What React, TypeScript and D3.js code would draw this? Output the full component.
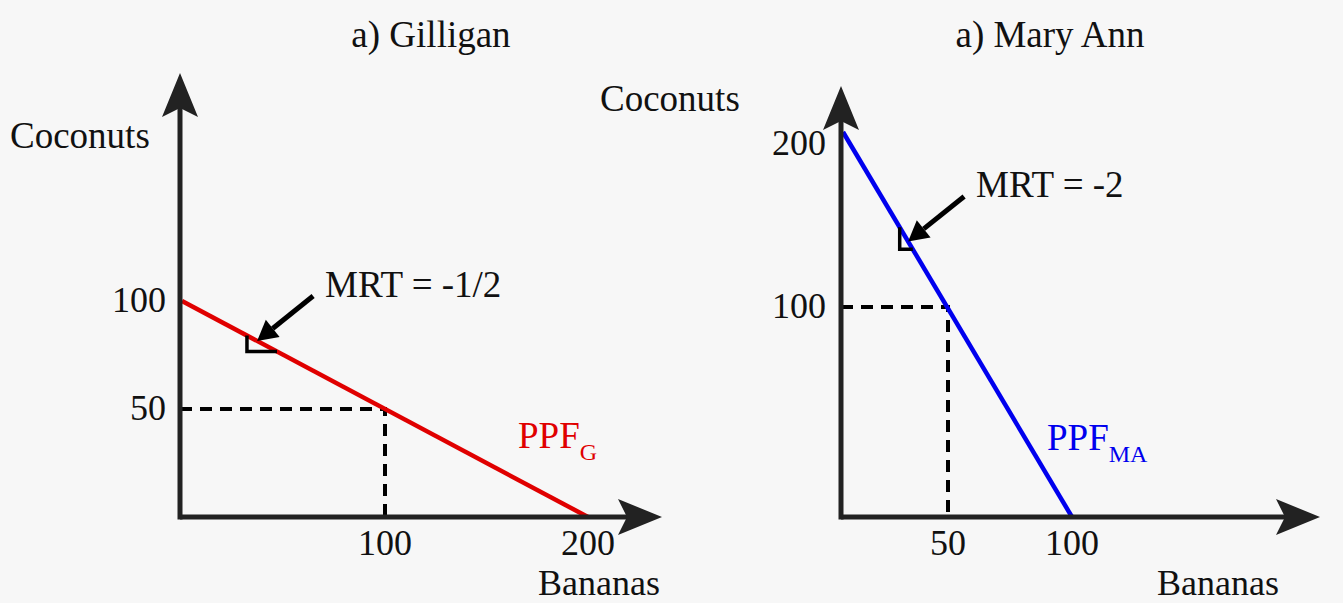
import * as d3 from "d3";

// --- data --------------------------------------------------------------

const gilliganTitle = "a) Gilligan";
const gilliganPPF = [
  { bananas: 0, coconuts: 100 },
  { bananas: 200, coconuts: 0 },
];
const gilliganPoint = { bananas: 100, coconuts: 50 };
const gilliganXTicks = [100, 200];
const gilliganYTicks = [50, 100];
const gilliganMRT = "MRT = -1/2";
const gilliganMRTAt = 37; // bananas where the arrow points
const gilliganMarkAt = 32; // bananas where the slope mark sits
const gilliganSub = "G";

const maryAnnTitle = "a) Mary Ann";
const maryAnnPPF = [
  { bananas: 0, coconuts: 200 },
  { bananas: 100, coconuts: 0 },
];
const maryAnnPoint = { bananas: 50, coconuts: 100 };
const maryAnnXTicks = [50, 100];
const maryAnnYTicks = [100, 200];
const maryAnnMRT = "MRT = -2";
const maryAnnMRTAt = 31;
const maryAnnMarkAt = 27;
const maryAnnSub = "MA";

// --- layout --------------------------------------------------------------

const W = 1343;
const H = 603;
const FONT = "'Liberation Serif', 'DejaVu Serif', serif";
const AXIS = "#222";

type Pt = { bananas: number; coconuts: number };

interface PanelProps {
  title: string;
  titleX: number;
  ppf: Pt[];
  point: Pt;
  xTicks: number[];
  yTicks: number[];
  mrt: string;
  mrtAt: number;
  markAt: number;
  markDepth: number;
  sub: string;
  color: string;
  origin: [number, number];
  // the sketch is not drawn to scale, so scales may be piecewise
  xDomain: number[];
  xRange: number[];
  yDomain: number[];
  yRange: number[];
  xTip: number;
  yTip: number;
  yLabelPos: [number, number];
  xLabelEnd: number;
  ppfLabel: [number, number];
  tickRight: number;
  topTickMin: number;
}

// notched arrow head pointing along +x with its tip at 0,0
const headPath = "M0,0 L-44,-18 L-35,0 L-44,18 Z";

function Panel(p: PanelProps) {
  const [ox, oy] = p.origin;
  const x = d3.scaleLinear().domain(p.xDomain).range(p.xRange);
  const y = d3.scaleLinear().domain(p.yDomain).range(p.yRange);

  const line = d3
    .line<Pt>()
    .x((d) => x(d.bananas))
    .y((d) => y(d.coconuts));

  // the PPF segment in pixel space, used to hang the annotations on it
  const a = p.ppf[0];
  const b = p.ppf[1];
  const segY = d3
    .scaleLinear()
    .domain([x(a.bananas), x(b.bananas)])
    .range([y(a.coconuts), y(b.coconuts)]);

  // arrow for MRT
  const tx = x(p.mrtAt);
  const ty = segY(tx);
  const sx = tx + 56;
  const sy = ty - 45;
  const ang = Math.atan2(ty - sy, tx - sx);
  const hl = 20;
  const hw = 11;
  const bx = tx - hl * Math.cos(ang);
  const by = ty - hl * Math.sin(ang);
  const nx = -Math.sin(ang);
  const ny = Math.cos(ang);
  const arrowHead = `M${tx},${ty} L${bx + nx * hw},${by + ny * hw} L${bx - nx * hw},${by - ny * hw} Z`;

  // slope mark: down from the line, then right back to it
  const mx = x(p.markAt);
  const my = segY(mx);
  const cy = my + p.markDepth;
  const ex = segY.invert(cy);
  const mark = `M${mx},${my} L${mx},${cy} L${ex},${cy}`;

  const px = x(p.point.bananas);
  const py = y(p.point.coconuts);

  return (
    <g>
      <text x={p.titleX} y={47} fontSize={37} textAnchor="middle" fill="#111">
        {p.title}
      </text>

      {/* dashed guides */}
      <path
        d={`M${ox},${py} L${px},${py} L${px},${oy}`}
        fill="none"
        stroke="#000"
        strokeWidth={4}
        strokeDasharray="12,8"
      />

      {/* PPF */}
      <path d={line(p.ppf) ?? ""} fill="none" stroke={p.color} strokeWidth={4.5} />

      {/* axes */}
      <line x1={ox} y1={oy} x2={p.xTip - 30} y2={oy} stroke={AXIS} strokeWidth={5} />
      <line x1={ox} y1={oy + 2.5} x2={ox} y2={p.yTip + 30} stroke={AXIS} strokeWidth={5} />
      <path d={headPath} fill={AXIS} transform={`translate(${p.xTip},${oy})`} />
      <path d={headPath} fill={AXIS} transform={`translate(${ox},${p.yTip}) rotate(-90)`} />

      {/* slope mark + arrow */}
      <path d={mark} fill="none" stroke="#000" strokeWidth={3.5} />
      <line x1={sx} y1={sy} x2={bx} y2={by} stroke="#000" strokeWidth={5} />
      <path d={arrowHead} fill="#000" />
      <text x={sx + 12} y={sy + 1} fontSize={37} fill="#111">
        {p.mrt}
      </text>

      {/* ticks */}
      {p.xTicks.map((t) => (
        <text key={"x" + t} x={x(t)} y={555} fontSize={36} textAnchor="middle" fill="#111">
          {t}
        </text>
      ))}
      {p.yTicks.map((t) => (
        <text
          key={"y" + t}
          x={p.tickRight}
          y={Math.max(y(t) + 11, p.topTickMin)}
          fontSize={36}
          textAnchor="end"
          fill="#111"
        >
          {t}
        </text>
      ))}

      {/* axis labels */}
      <text x={p.yLabelPos[0]} y={p.yLabelPos[1]} fontSize={37} fill="#111">
        Coconuts
      </text>
      <text x={p.xLabelEnd} y={595} fontSize={36} textAnchor="end" fill="#111">
        Bananas
      </text>

      {/* PPF label */}
      <text x={p.ppfLabel[0]} y={p.ppfLabel[1]} fontSize={37} fill={p.color}>
        PPF
        <tspan fontSize={24} dy={12}>
          {p.sub}
        </tspan>
      </text>
    </g>
  );
}

export default function App() {
  return (
    <svg
      width={W}
      height={H}
      style={{ position: "absolute", left: 0, top: 0, background: "#f7f7f7" }}
      fontFamily={FONT}
    >
      <Panel
        title={gilliganTitle}
        titleX={431}
        ppf={gilliganPPF}
        point={gilliganPoint}
        xTicks={gilliganXTicks}
        yTicks={gilliganYTicks}
        mrt={gilliganMRT}
        mrtAt={gilliganMRTAt}
        markAt={gilliganMarkAt}
        markDepth={16}
        sub={gilliganSub}
        color="#e00000"
        origin={[180, 517]}
        xDomain={[0, 200]}
        xRange={[182, 588]}
        yDomain={[0, 100]}
        yRange={[517, 301]}
        xTip={662}
        yTip={73}
        yLabelPos={[10, 148]}
        xLabelEnd={660}
        ppfLabel={[518, 448]}
        tickRight={166}
        topTickMin={0}
      />
      <Panel
        title={maryAnnTitle}
        titleX={1050}
        ppf={maryAnnPPF}
        point={maryAnnPoint}
        xTicks={maryAnnXTicks}
        yTicks={maryAnnYTicks}
        mrt={maryAnnMRT}
        mrtAt={maryAnnMRTAt}
        markAt={maryAnnMarkAt}
        markDepth={22}
        sub={maryAnnSub}
        color="#0000ee"
        origin={[841, 517]}
        xDomain={[0, 50, 100]}
        xRange={[843, 948, 1072]}
        yDomain={[0, 100, 200]}
        yRange={[517, 307, 132]}
        xTip={1320}
        yTip={86}
        yLabelPos={[600, 111]}
        xLabelEnd={1279}
        ppfLabel={[1047, 450]}
        tickRight={826}
        topTickMin={155}
      />
    </svg>
  );
}
